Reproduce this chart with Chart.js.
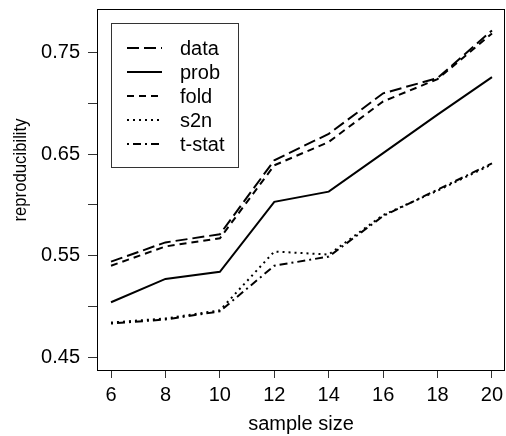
<!DOCTYPE html>
<html>
<head>
<meta charset="utf-8">
<script src="https://cdn.jsdelivr.net/npm/chart.js@4.4.1/dist/chart.umd.min.js"></script>
<style>
  html, body { margin: 0; padding: 0; background: #fff; overflow: hidden; }
</style>
</head>
<body>
<canvas id="reproChart" width="506" height="436"></canvas>
<script>
// sample sizes on the x axis
const sampleSize = [6, 8, 10, 12, 14, 16, 18, 20];

// reproducibility for each method
const dataMethod = [0.544, 0.563, 0.571, 0.644, 0.670, 0.710, 0.725, 0.772];
const probMethod = [0.504, 0.527, 0.534, 0.603, 0.613, 0.651, 0.689, 0.726];
const foldMethod = [0.540, 0.559, 0.567, 0.639, 0.662, 0.702, 0.724, 0.769];
const s2nMethod = [0.484, 0.488, 0.496, 0.554, 0.551, 0.590, 0.614, 0.640];
const tstatMethod = [0.483, 0.487, 0.495, 0.540, 0.549, 0.589, 0.615, 0.641];

const seriesNames = ['data', 'prob', 'fold', 's2n', 't-stat'];

// axis ticks
const xTicks = [6, 8, 10, 12, 14, 16, 18, 20];
const yTicks = [0.45, 0.50, 0.55, 0.60, 0.65, 0.70, 0.75];
const yLabels = ['0.45', '', '0.55', '', '0.65', '', '0.75'];

const FONT = 'Liberation Sans, Arial, Helvetica, sans-serif';

function points(values) {
  return sampleSize.map((x, i) => ({ x: x, y: values[i] }));
}

// line styles, R-like
const dashes = [[12, 5], [], [7, 5], [2, 4], [2, 4, 8, 4]];
const allValues = [dataMethod, probMethod, foldMethod, s2nMethod, tstatMethod];

const datasets = seriesNames.map((name, i) => ({
  label: name,
  data: points(allValues[i]),
  borderColor: '#000',
  borderWidth: 2,
  borderDash: dashes[i],
  pointRadius: 0,
  tension: 0,
  fill: false
}));

// no extra room for the end labels, the plot box is fixed
function noPad(scale) {
  scale.paddingTop = 0;
  scale.paddingBottom = 0;
  scale.paddingLeft = 0;
  scale.paddingRight = 0;
}

// box around the plot, y title, legend in the upper left
const boxAndLegend = {
  id: 'boxAndLegend',
  afterDraw(chart) {
    const ctx = chart.ctx;
    const a = chart.chartArea;
    ctx.save();
    ctx.strokeStyle = '#000';
    ctx.lineWidth = 1;
    ctx.setLineDash([]);
    ctx.strokeRect(a.left + 0.5, a.top + 0.5, a.right - a.left - 1, a.bottom - a.top);

    // y axis title (sits a bit above the box middle, text is a bit squeezed)
    ctx.save();
    ctx.translate(21, 170);
    ctx.rotate(-Math.PI / 2);
    ctx.scale(0.88, 1);
    ctx.font = '19px ' + FONT;
    ctx.fillStyle = '#000';
    ctx.textAlign = 'center';
    ctx.textBaseline = 'middle';
    ctx.fillText('reproducibility', 0, 0);
    ctx.restore();

    // legend
    ctx.strokeStyle = '#333';
    ctx.strokeRect(111.5, 23.5, 127, 144);
    ctx.font = '20px ' + FONT;
    ctx.fillStyle = '#000';
    ctx.textBaseline = 'middle';
    chart.data.datasets.forEach((ds, i) => {
      const y = 48 + i * 24;
      ctx.beginPath();
      ctx.setLineDash(ds.borderDash);
      ctx.lineWidth = 2;
      ctx.strokeStyle = '#000';
      ctx.moveTo(127, y);
      ctx.lineTo(162, y);
      ctx.stroke();
      ctx.fillText(ds.label, 180, y + 1);
    });
    ctx.restore();
  }
};

new Chart(document.getElementById('reproChart'), {
  type: 'line',
  data: { datasets: datasets },
  plugins: [boxAndLegend],
  options: {
    responsive: false,
    devicePixelRatio: 1,
    animation: false,
    layout: { padding: { top: 9, right: 1, left: 0, bottom: 0 } },
    plugins: {
      legend: { display: false },
      tooltip: { enabled: false }
    },
    scales: {
      x: {
        type: 'linear',
        min: 5.485,
        max: 20.478,
        afterFit(scale) { scale.height = 66; noPad(scale); },
        afterBuildTicks(scale) { scale.ticks = xTicks.map(v => ({ value: v })); },
        grid: { drawOnChartArea: false, drawTicks: true, tickLength: 8, color: '#333' },
        border: { display: false },
        ticks: {
          color: '#000',
          font: { family: FONT, size: 20 },
          padding: 5,
          maxRotation: 0,
          autoSkip: false
        },
        title: {
          display: true,
          text: 'sample size',
          color: '#000',
          font: { family: FONT, size: 20 },
          padding: { top: 0, bottom: 0 }
        }
      },
      y: {
        type: 'linear',
        min: 0.4372,
        max: 0.7931,
        afterFit(scale) { scale.width = 97; noPad(scale); },
        afterBuildTicks(scale) { scale.ticks = yTicks.map(v => ({ value: v })); },
        grid: { drawOnChartArea: false, drawTicks: true, tickLength: 9, color: '#333' },
        border: { display: false },
        ticks: {
          color: '#000',
          font: { family: FONT, size: 20 },
          padding: 8,
          autoSkip: false,
          callback: (v, i) => yLabels[i]
        },
        title: { display: false }
      }
    }
  }
});
</script>
</body>
</html>
